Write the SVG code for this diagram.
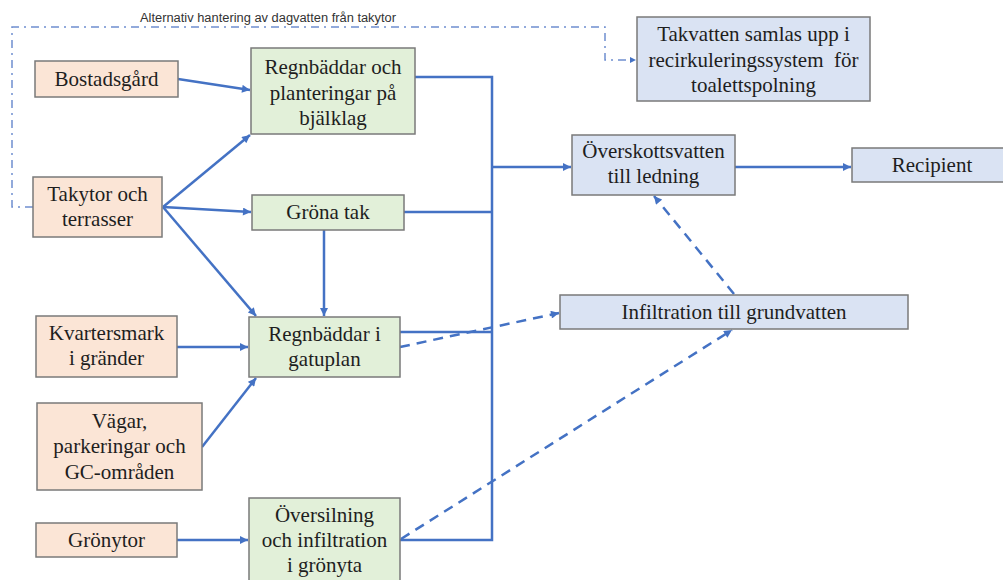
<svg xmlns="http://www.w3.org/2000/svg" width="1003" height="580" viewBox="0 0 1003 580">
<defs>
<style>
.box{stroke:#7a7a7a;stroke-width:1.5}
.src{fill:#fbe5d6}
.grn{fill:#e2f0d9}
.blu{fill:#dae3f3}
.t{font-family:"Liberation Serif","Times New Roman",serif;font-size:21px;fill:#1e1e1e;text-anchor:middle}
.lbl{font-family:"Liberation Sans",Arial,sans-serif;font-size:12px;fill:#333;text-anchor:middle}
.ln{fill:none;stroke:#4472c4;stroke-width:2.5}
.dash{fill:none;stroke:#4472c4;stroke-width:2.5;stroke-dasharray:10 7}
.dd{fill:none;stroke:#6f8fcf;stroke-width:1.5;stroke-dasharray:8 5 2 5}
</style>
<marker id="ah" viewBox="0 0 10 10" refX="10" refY="5" markerWidth="9" markerHeight="8" markerUnits="userSpaceOnUse" orient="auto">
<path d="M0,0 L10,5 L0,10 z" fill="#4472c4"/>
</marker>
<marker id="ahs" viewBox="0 0 10 10" refX="10" refY="5" markerWidth="7" markerHeight="6" markerUnits="userSpaceOnUse" orient="auto">
<path d="M0,0 L10,5 L0,10 z" fill="#4472c4"/>
</marker>
</defs>
<rect width="1003" height="580" fill="#ffffff"/>

<g id="connectors">
<path class="dd" d="M33,207 H12 V27 H605 V60 H636" marker-end="url(#ahs)"/>
<line class="ln" x1="178" y1="79" x2="250" y2="90" marker-end="url(#ah)"/>
<line class="ln" x1="163" y1="207" x2="250" y2="135" marker-end="url(#ah)"/>
<line class="ln" x1="163" y1="207" x2="251" y2="212" marker-end="url(#ah)"/>
<line class="ln" x1="163" y1="207" x2="256" y2="316" marker-end="url(#ah)"/>
<line class="ln" x1="324" y1="230" x2="324" y2="316" marker-end="url(#ah)"/>
<line class="ln" x1="177" y1="347" x2="248" y2="347" marker-end="url(#ah)"/>
<line class="ln" x1="202" y1="447" x2="256" y2="378" marker-end="url(#ah)"/>
<line class="ln" x1="177" y1="540" x2="248" y2="540" marker-end="url(#ah)"/>
<path class="ln" d="M415,77 H492 V540 H400"/>
<line class="ln" x1="404" y1="212" x2="492" y2="212"/>
<line class="ln" x1="400" y1="332" x2="492" y2="332"/>
<line class="ln" x1="492" y1="167" x2="571" y2="167" marker-end="url(#ah)"/>
<line class="ln" x1="735" y1="167" x2="851" y2="167" marker-end="url(#ah)"/>
<line class="dash" x1="400" y1="347" x2="559" y2="313" marker-end="url(#ah)"/>
<line class="dash" x1="401" y1="539" x2="732" y2="330" marker-end="url(#ah)"/>
<line class="dash" x1="734" y1="294" x2="654" y2="196" marker-end="url(#ah)"/>
</g>

<text class="lbl" x="268" y="22" textLength="256" lengthAdjust="spacingAndGlyphs">Alternativ hantering av dagvatten från takytor</text>

<g id="bostadsgard">
<rect class="box src" x="35" y="61" width="143" height="36"/>
<text class="t" x="106.5" y="86">Bostadsgård</text>
</g>
<g id="takytor">
<rect class="box src" x="33" y="177" width="129" height="60"/>
<text class="t" x="97.5" y="201">Takytor och</text>
<text class="t" x="97.5" y="226">terrasser</text>
</g>
<g id="kvartersmark">
<rect class="box src" x="36" y="316" width="141" height="61"/>
<text class="t" x="106.5" y="340">Kvartersmark</text>
<text class="t" x="106.5" y="365">i gränder</text>
</g>
<g id="vagar">
<rect class="box src" x="37" y="403" width="165" height="87"/>
<text class="t" x="119.5" y="428">Vägar,</text>
<text class="t" x="119.5" y="453">parkeringar och</text>
<text class="t" x="119.5" y="479">GC-områden</text>
</g>
<g id="gronytor">
<rect class="box src" x="36" y="523" width="141" height="34"/>
<text class="t" x="106.5" y="547">Grönytor</text>
</g>

<g id="regnbaddar-bjalklag">
<rect class="box grn" x="251" y="48" width="164" height="86"/>
<text class="t" x="333" y="74">Regnbäddar och</text>
<text class="t" x="333" y="100">planteringar på</text>
<text class="t" x="333" y="125">bjälklag</text>
</g>
<g id="grona-tak">
<rect class="box grn" x="252" y="195" width="152" height="35"/>
<text class="t" x="328" y="219">Gröna tak</text>
</g>
<g id="regnbaddar-gatuplan">
<rect class="box grn" x="249" y="317" width="151" height="60"/>
<text class="t" x="324.5" y="341">Regnbäddar i</text>
<text class="t" x="324.5" y="366">gatuplan</text>
</g>
<g id="oversilning">
<rect class="box grn" x="249" y="498" width="151" height="86"/>
<text class="t" x="324.5" y="522">Översilning</text>
<text class="t" x="324.5" y="547">och infiltration</text>
<text class="t" x="324.5" y="572">i grönyta</text>
</g>

<g id="takvatten">
<rect class="box blu" x="637" y="17" width="233" height="84"/>
<text class="t" x="753.5" y="41">Takvatten samlas upp i</text>
<text class="t" x="753.5" y="67" xml:space="preserve">recirkuleringssystem  för</text>
<text class="t" x="753.5" y="92">toalettspolning</text>
</g>
<g id="overskottsvatten">
<rect class="box blu" x="572" y="135" width="163" height="60"/>
<text class="t" x="653.5" y="158">Överskottsvatten</text>
<text class="t" x="653.5" y="183">till ledning</text>
</g>
<g id="recipient">
<rect class="box blu" x="852" y="148" width="160" height="34"/>
<text class="t" x="932" y="172">Recipient</text>
</g>
<g id="infiltration">
<rect class="box blu" x="560" y="295" width="348" height="34"/>
<text class="t" x="734" y="319">Infiltration till grundvatten</text>
</g>
</svg>
